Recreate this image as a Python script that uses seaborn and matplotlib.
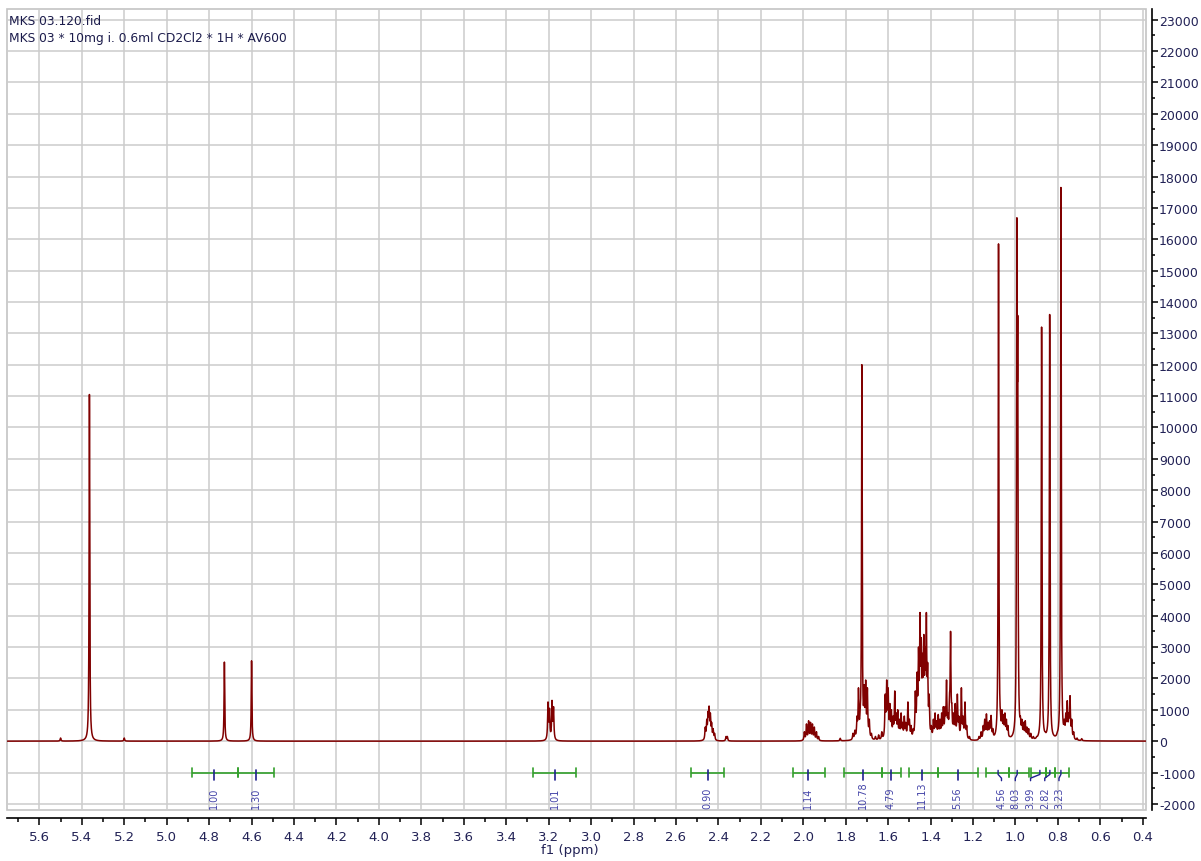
import numpy as np
import matplotlib
matplotlib.use("Agg")
import matplotlib.pyplot as plt
from matplotlib.patches import Rectangle
from matplotlib.ticker import MultipleLocator, FormatStrFormatter
import seaborn as sns

sns.set_theme(style="white")
plt.rcParams["font.family"] = ["DejaVu Sans"]
plt.rcParams["axes.unicode_minus"] = False

# ---- 1H NMR peak table (chemical shift in ppm, intensity) ----
# sharp singlets
singlet_ppm = [5.364, 4.728, 4.600, 1.724, 1.080, 0.9935, 0.9895, 0.877, 0.839, 0.786]
singlet_height = [11050, 2520, 2560, 12000, 15850, 16650, 13500, 13200, 13600, 17650]

# multiplet lines and small signals
multiplet_ppm = [
    5.500, 5.200,
    3.203, 3.196, 3.184, 3.177,
    2.462, 2.455, 2.449, 2.444, 2.438, 2.432, 2.425, 2.418, 2.364, 2.358,
    1.995, 1.985, 1.975, 1.966, 1.957, 1.948, 1.938, 1.928, 1.826,
    1.766, 1.757, 1.747, 1.740, 1.732, 1.713, 1.706, 1.698, 1.689, 1.679,
    1.660, 1.645, 1.630, 1.614, 1.607, 1.600, 1.592, 1.585, 1.577, 1.569,
    1.562, 1.555, 1.547, 1.539, 1.532, 1.524, 1.517, 1.507, 1.500, 1.492,
    1.482, 1.472, 1.464, 1.457, 1.450, 1.444, 1.438, 1.432, 1.426, 1.420,
    1.414, 1.407, 1.397, 1.387, 1.379, 1.372, 1.364, 1.356, 1.348, 1.340,
    1.332, 1.325, 1.318, 1.311, 1.306, 1.300, 1.292, 1.284, 1.274, 1.267,
    1.255, 1.247, 1.238, 1.230, 1.217, 1.172, 1.162, 1.152, 1.145, 1.137,
    1.129, 1.122, 1.115, 1.107, 1.097, 1.071, 1.064, 1.057, 1.050, 1.043,
    1.036, 1.027, 0.977, 0.970, 0.962, 0.954, 0.946, 0.938, 0.928, 0.916,
    0.900, 0.860, 0.820, 0.803, 0.770, 0.763, 0.756, 0.749, 0.743, 0.735,
    0.726, 0.710, 0.688,
]
multiplet_height = [
    100, 100,
    1250, 1050, 1300, 1100,
    450, 700, 950, 1120, 900, 600, 400, 250, 150, 150,
    300, 550, 650, 600, 550, 450, 300, 150, 90,
    250, 350, 800, 1700, 1000, 1800, 1950, 1700, 700, 250,
    150, 200, 300, 1500, 1950, 1700, 1200, 1000, 800, 1600,
    900, 1000, 700, 900, 600, 800, 600, 1250, 700, 500,
    400, 1600, 2200, 3000, 4100, 3300, 2800, 3400, 3000, 4100,
    2500, 1500, 500, 700, 900, 650, 850, 700, 900, 1100,
    1100, 1950, 900, 1500, 3500, 1200, 900, 1200, 1500, 800,
    1700, 800, 1250, 500, 150, 150, 300, 500, 700, 870,
    600, 650, 820, 400, 150, 950, 1000, 850, 900, 700,
    500, 150, 800, 700, 600, 650, 450, 400, 250, 150,
    150, 300, 200, 300, 700, 900, 1290, 900, 1450, 700,
    300, 100, 80,
]

# ---- integrals: region limits (ppm), leader position and value ----
integral_start = [4.881, 4.664, 3.272, 2.530, 2.050, 1.806, 1.629, 1.503, 1.367,
                  1.138, 1.030, 0.926, 0.857, 0.813]
integral_end = [4.664, 4.493, 3.071, 2.373, 1.896, 1.629, 1.539, 1.367, 1.177,
                1.030, 0.938, 0.857, 0.813, 0.750]
integral_mark = [4.775, 4.579, 3.171, 2.450, 1.978, 1.720, 1.589, 1.439, 1.273,
                 1.082, 0.992, 0.885, 0.838, 0.786]
integral_label_pos = [4.775, 4.579, 3.171, 2.450, 1.978, 1.720, 1.589, 1.439, 1.273,
                      1.066, 1.001, 0.929, 0.862, 0.795]
integral_text = ["1.00", "1.30", "1.01", "0.90", "1.14", "10.78", "4.79", "11.13", "5.56",
                 "4.56", "8.03", "3.99", "2.82", "3.23"]

# ---- build the spectrum trace from the peak table ----
ppm_axis = np.arange(0.385, 5.751, 0.0002)[::-1]
centers = np.array(singlet_ppm + multiplet_ppm)
widths = np.array([0.0018] * len(singlet_ppm) + [0.0022] * len(multiplet_ppm))
targets = np.array(singlet_height + multiplet_height, dtype=float)


def lorentz(x, c, w):
    return 1.0 / (1.0 + ((x - c) / w) ** 2)


# amplitudes chosen so that each line reaches its tabulated height
M = lorentz(centers[:, None], centers[None, :], widths[None, :])
amps = np.clip(np.linalg.solve(M, targets), 0, None)
intensity = (lorentz(ppm_axis[:, None], centers[None, :], widths[None, :]) * amps).sum(axis=1)

# ---- figure ----
W, H = 1201, 862
fig = plt.figure(figsize=(W / 100, H / 100), dpi=100)
x0, x1, ytop, ybot = 7.3, 1146, 10, 810.7
ax = fig.add_axes([x0 / W, 1 - ybot / H, (x1 - x0) / W, (ybot - ytop) / H])

sns.lineplot(x=ppm_axis, y=intensity, ax=ax, color="#800000", linewidth=1.1,
             estimator=None, sort=False)

ax.set_xlim(5.751, 0.385)
ax.set_ylim(-2185, 23340)

label_color = "#222256"
ax.xaxis.set_major_locator(MultipleLocator(0.2))
ax.xaxis.set_minor_locator(MultipleLocator(0.1))
ax.yaxis.set_major_locator(MultipleLocator(1000))
ax.yaxis.set_minor_locator(MultipleLocator(500))
ax.xaxis.set_major_formatter(FormatStrFormatter("%.1f"))
ax.yaxis.tick_right()

ax.grid(True, which="major", color="#cccccc", linewidth=1.1)
ax.set_axisbelow(True)

for side in ("left", "top"):
    ax.spines[side].set_visible(False)
for side, off in (("bottom", 6), ("right", 4)):
    sp = ax.spines[side]
    sp.set_visible(True)
    sp.set_position(("outward", off))
    sp.set_color("black")
    sp.set_linewidth(1.2)

ax.add_patch(Rectangle((0, 0), 1, 1, transform=ax.transAxes, fill=False,
                       edgecolor="#c4c4c4", linewidth=1.2, clip_on=False, zorder=0.5))

ax.tick_params(axis="x", which="major", length=4.8, width=1.1, color="black",
               labelsize=9.5, labelcolor=label_color, pad=4, bottom=True)
ax.tick_params(axis="x", which="minor", length=3.0, width=1.1, color="black", bottom=True)
ax.tick_params(axis="y", which="major", length=4.3, width=1.1, color="black",
               labelsize=9, labelcolor=label_color, pad=1, right=True, left=False)
ax.tick_params(axis="y", which="minor", length=2.4, width=1.1, color="black",
               right=True, left=False)

ax.set_xlabel("f1 (ppm)", fontsize=9.5, color=label_color)
ax.xaxis.set_label_coords((570 - x0) / (x1 - x0), (ybot - 851) / (ybot - ytop))
ax.xaxis.label.set_va("center")

# ---- integral bars ----
green = "#33a02c"
blue = "#1f1f8f"
cap = 130
for s, e, m, lp, txt in zip(integral_start, integral_end, integral_mark,
                            integral_label_pos, integral_text):
    ax.plot([s, e], [-1000, -1000], color=green, lw=1.2, solid_capstyle="butt", zorder=3)
    ax.plot([s, s], [-1000 - cap, -1000 + cap], color=green, lw=1.2, zorder=3)
    ax.plot([e, e], [-1000 - cap, -1000 + cap], color=green, lw=1.2, zorder=3)
    if abs(lp - m) < 1e-6:
        ax.plot([m, m], [-930, -1250], color=blue, lw=1.2, zorder=4)
    else:
        ax.plot([m, m, lp, lp], [-930, -1060, -1180, -1260], color=blue, lw=1.0, zorder=4)
    ax.text(lp, -2130, txt, rotation=90, ha="center", va="bottom", fontsize=7,
            color="#4444a8", zorder=5)

# ---- header ----
fig.text(9.3 / W, 1 - 25 / H, "MKS 03.120.fid", fontsize=8.8, color="#1c1c4c",
         va="baseline", ha="left")
fig.text(9.3 / W, 1 - 41.7 / H, "MKS 03 * 10mg i. 0.6ml CD2Cl2 * 1H * AV600",
         fontsize=8.8, color="#1c1c4c", va="baseline", ha="left")

fig.savefig("out.png", dpi=100, facecolor="white")
